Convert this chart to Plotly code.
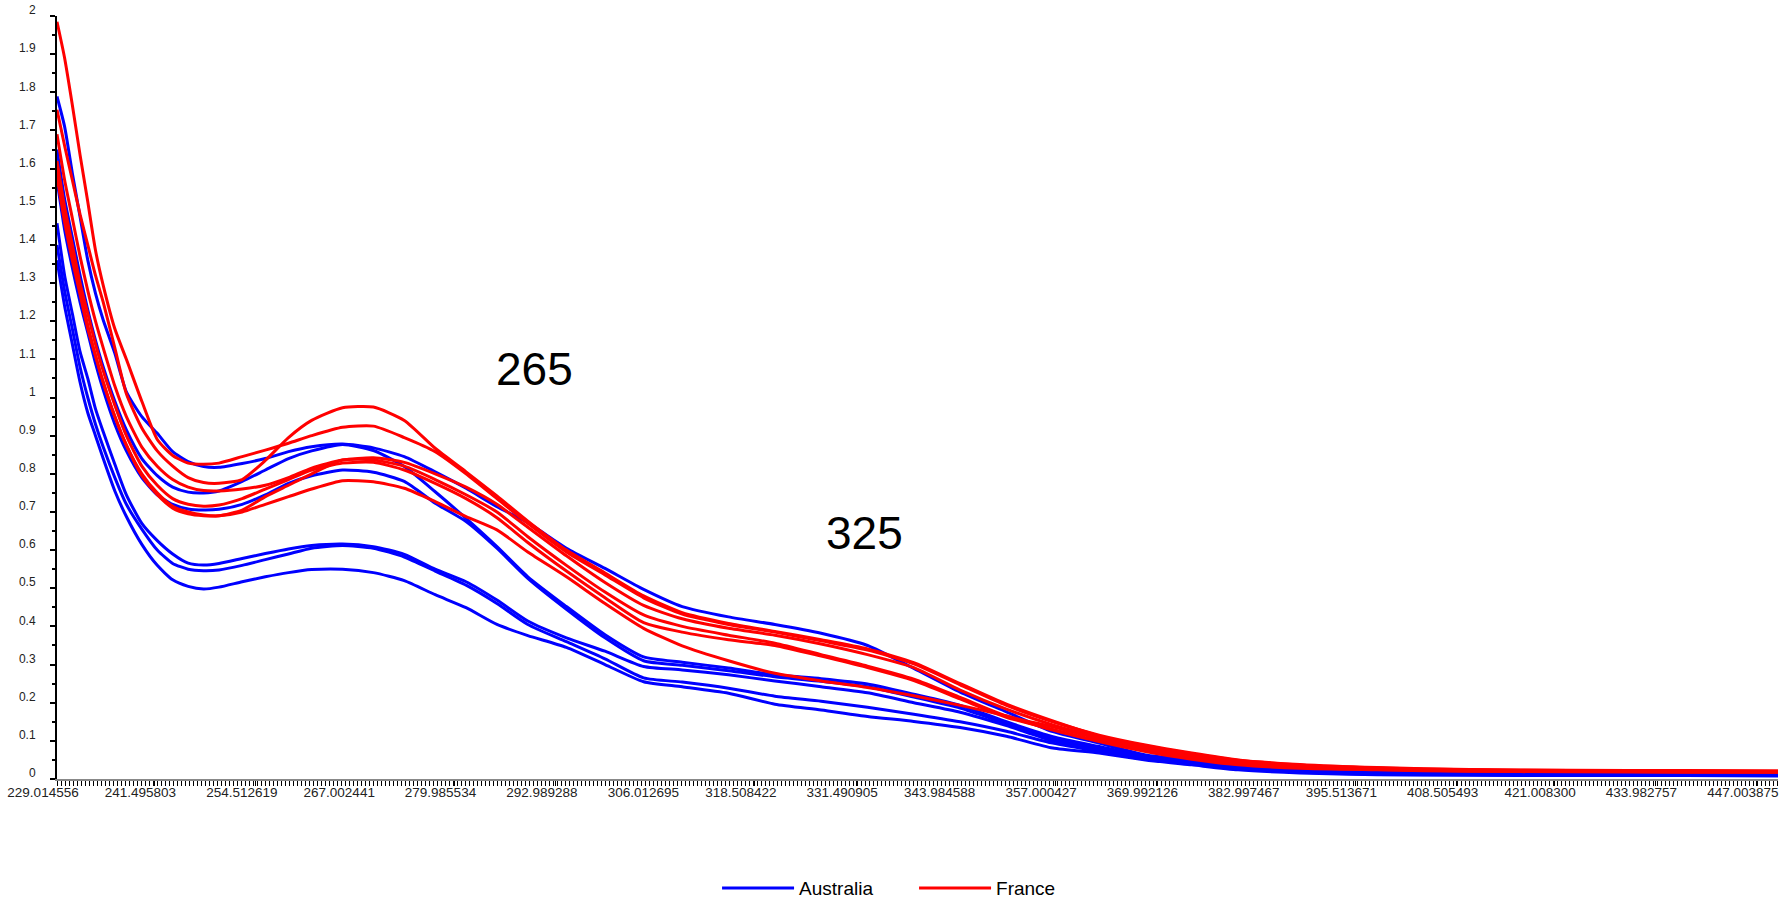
import plotly.graph_objects as go

# wavelength (nm) at which curve values were read
wl = [229.014556, 229.99, 230.98, 231.97, 232.96, 233.95, 234.94, 236.43, 237.91, 239.89,
      241.87, 243.85, 245.83, 247.81, 249.79, 252.76, 255.73, 258.70, 261.67, 265.63,
      269.59, 273.55, 277.51, 281.47, 285.43, 289.39, 294.34, 299.29, 304.24, 309.19,
      315.13, 321.07, 327.01, 332.95, 338.89, 344.83, 350.77, 356.71, 362.65, 368.59,
      374.53, 380.47, 388.39, 398.29, 410.17, 423.04, 437.89, 449.71]

aus_1 = [1.789, 1.71, 1.588, 1.474, 1.36, 1.273, 1.203, 1.116, 1.015, 0.95, 0.906, 0.858, 0.832, 0.819, 0.817, 0.827,
         0.84, 0.858, 0.871, 0.878, 0.868, 0.845, 0.805, 0.762, 0.714, 0.672, 0.605, 0.552, 0.497, 0.452, 0.425, 0.405,
         0.382, 0.35, 0.29, 0.228, 0.176, 0.124, 0.094, 0.063, 0.05, 0.037, 0.028, 0.02, 0.016, 0.014, 0.013, 0.012]
aus_2 = [1.65, 1.52, 1.42, 1.32, 1.23, 1.15, 1.08, 0.99, 0.915, 0.84, 0.795, 0.765, 0.752, 0.75, 0.755, 0.78,
         0.81, 0.84, 0.86, 0.877, 0.861, 0.819, 0.753, 0.683, 0.609, 0.53, 0.452, 0.378, 0.32, 0.306, 0.291, 0.273,
         0.263, 0.249, 0.222, 0.193, 0.15, 0.111, 0.085, 0.06, 0.046, 0.034, 0.025, 0.018, 0.014, 0.013, 0.012, 0.011]
aus_3 = [1.57, 1.44, 1.34, 1.25, 1.17, 1.09, 1.02, 0.93, 0.86, 0.79, 0.745, 0.72, 0.708, 0.705, 0.707, 0.72,
         0.745, 0.775, 0.795, 0.81, 0.804, 0.78, 0.723, 0.675, 0.605, 0.526, 0.445, 0.37, 0.31, 0.298, 0.284, 0.268,
         0.256, 0.242, 0.215, 0.186, 0.145, 0.105, 0.08, 0.057, 0.044, 0.032, 0.023, 0.016, 0.013, 0.012, 0.011, 0.01]
aus_4 = [1.457, 1.32, 1.22, 1.12, 1.05, 0.97, 0.91, 0.825, 0.745, 0.67, 0.625, 0.59, 0.566, 0.561, 0.565, 0.578,
         0.591, 0.603, 0.612, 0.616, 0.609, 0.589, 0.55, 0.517, 0.469, 0.414, 0.37, 0.335, 0.295, 0.286, 0.273, 0.257,
         0.242, 0.226, 0.2, 0.175, 0.14, 0.10, 0.076, 0.055, 0.042, 0.03, 0.021, 0.014, 0.012, 0.011, 0.01, 0.01]
aus_5 = [1.40, 1.28, 1.18, 1.08, 1.00, 0.93, 0.87, 0.79, 0.72, 0.655, 0.60, 0.565, 0.55, 0.546, 0.548, 0.56,
         0.575, 0.59, 0.605, 0.612, 0.605, 0.582, 0.545, 0.508, 0.46, 0.405, 0.36, 0.315, 0.265, 0.254, 0.238, 0.217,
         0.204, 0.188, 0.17, 0.15, 0.125, 0.094, 0.072, 0.052, 0.04, 0.027, 0.018, 0.012, 0.011, 0.01, 0.009, 0.009]
aus_6 = [1.36, 1.24, 1.14, 1.04, 0.96, 0.90, 0.84, 0.755, 0.688, 0.615, 0.56, 0.522, 0.505, 0.498, 0.503, 0.517,
         0.53, 0.541, 0.549, 0.55, 0.541, 0.52, 0.483, 0.449, 0.405, 0.376, 0.345, 0.30, 0.255, 0.242, 0.225, 0.196,
         0.181, 0.164, 0.151, 0.135, 0.112, 0.081, 0.068, 0.05, 0.037, 0.024, 0.016, 0.011, 0.01, 0.009, 0.009, 0.008]

fra_1 = [1.985, 1.89, 1.767, 1.636, 1.513, 1.386, 1.294, 1.18, 1.10, 0.99, 0.89, 0.848, 0.828, 0.825, 0.828, 0.845,
         0.862, 0.88, 0.90, 0.922, 0.925, 0.895, 0.858, 0.80, 0.735, 0.67, 0.595, 0.535, 0.475, 0.432, 0.405, 0.385,
         0.362, 0.338, 0.302, 0.247, 0.193, 0.15, 0.115, 0.089, 0.068, 0.05, 0.038, 0.03, 0.025, 0.023, 0.022, 0.021]
fra_2 = [1.754, 1.66, 1.57, 1.48, 1.40, 1.32, 1.25, 1.13, 1.01, 0.92, 0.86, 0.82, 0.79, 0.777, 0.775, 0.785,
         0.835, 0.895, 0.94, 0.973, 0.975, 0.94, 0.867, 0.805, 0.742, 0.676, 0.60, 0.54, 0.48, 0.436, 0.408, 0.387,
         0.365, 0.341, 0.305, 0.25, 0.196, 0.152, 0.113, 0.087, 0.066, 0.049, 0.037, 0.029, 0.024, 0.022, 0.021, 0.02]
fra_3 = [1.69, 1.57, 1.47, 1.37, 1.28, 1.20, 1.13, 1.03, 0.95, 0.87, 0.82, 0.785, 0.765, 0.756, 0.755, 0.76,
         0.77, 0.79, 0.815, 0.836, 0.842, 0.83, 0.80, 0.765, 0.72, 0.66, 0.585, 0.515, 0.455, 0.42, 0.395, 0.377,
         0.354, 0.326, 0.292, 0.233, 0.183, 0.142, 0.11, 0.085, 0.063, 0.046, 0.035, 0.028, 0.023, 0.021, 0.02, 0.02]
fra_4 = [1.62, 1.50, 1.40, 1.30, 1.22, 1.14, 1.07, 0.98, 0.90, 0.82, 0.77, 0.735, 0.72, 0.715, 0.718, 0.735,
         0.76, 0.785, 0.81, 0.828, 0.83, 0.81, 0.775, 0.735, 0.685, 0.62, 0.545, 0.475, 0.41, 0.385, 0.365, 0.35,
         0.322, 0.292, 0.258, 0.21, 0.162, 0.13, 0.10, 0.076, 0.055, 0.04, 0.03, 0.025, 0.021, 0.02, 0.019, 0.018]
fra_5 = [1.60, 1.48, 1.37, 1.28, 1.19, 1.11, 1.04, 0.95, 0.875, 0.795, 0.745, 0.71, 0.695, 0.69, 0.69, 0.70,
         0.72, 0.74, 0.76, 0.782, 0.779, 0.762, 0.727, 0.688, 0.653, 0.595, 0.53, 0.46, 0.395, 0.349, 0.31, 0.277,
         0.257, 0.24, 0.218, 0.193, 0.165, 0.128, 0.098, 0.072, 0.052, 0.037, 0.028, 0.024, 0.02, 0.019, 0.018, 0.018]
fra_6 = [1.58, 1.46, 1.36, 1.27, 1.18, 1.11, 1.04, 0.95, 0.875, 0.80, 0.75, 0.715, 0.70, 0.692, 0.69, 0.705,
         0.74, 0.77, 0.80, 0.836, 0.836, 0.82, 0.785, 0.745, 0.70, 0.635, 0.56, 0.49, 0.43, 0.40, 0.377, 0.356,
         0.326, 0.296, 0.262, 0.214, 0.165, 0.137, 0.105, 0.08, 0.058, 0.042, 0.032, 0.026, 0.022, 0.02, 0.019, 0.019]

australia = [aus_1, aus_2, aus_3, aus_4, aus_5, aus_6]
france = [fra_1, fra_2, fra_3, fra_4, fra_5, fra_6]

x_tick_vals = [229.014556, 241.495803, 254.512619, 267.002441, 279.985534, 292.989288,
               306.012695, 318.508422, 331.490905, 343.984588, 357.000427, 369.992126,
               382.997467, 395.513671, 408.505493, 421.008300, 433.982757, 447.003875]
x_tick_text = ["229.014556", "241.495803", "254.512619", "267.002441", "279.985534", "292.989288",
               "306.012695", "318.508422", "331.490905", "343.984588", "357.000427", "369.992126",
               "382.997467", "395.513671", "408.505493", "421.008300", "433.982757", "447.003875"]
y_tick_vals = [0, 0.1, 0.2, 0.3, 0.4, 0.5, 0.6, 0.7, 0.8, 0.9, 1.0,
               1.1, 1.2, 1.3, 1.4, 1.5, 1.6, 1.7, 1.8, 1.9, 2.0]
y_tick_text = ["0", "0.1", "0.2", "0.3", "0.4", "0.5", "0.6", "0.7", "0.8", "0.9", "1",
               "1.1", "1.2", "1.3", "1.4", "1.5", "1.6", "1.7", "1.8", "1.9", "2"]
y_minor_vals = [0.05, 0.15, 0.25, 0.35, 0.45, 0.55, 0.65, 0.75, 0.85, 0.95,
                1.05, 1.15, 1.25, 1.35, 1.45, 1.55, 1.65, 1.75, 1.85, 1.95]

peak_labels = ["265", "325"]
peak_label_x = [290.2, 332.6]
peak_label_y = [1.075, 0.645]

FONT = "Liberation Sans, Arial, sans-serif"

fig = go.Figure()
for i, ys in enumerate(australia):
    fig.add_trace(go.Scatter(x=wl, y=ys, mode="lines", name="Australia",
                             legendgroup="Australia", showlegend=(i == 0),
                             line=dict(color="#0000FF", width=3, shape="spline", smoothing=0.6)))
for i, ys in enumerate(france):
    fig.add_trace(go.Scatter(x=wl, y=ys, mode="lines", name="France",
                             legendgroup="France", showlegend=(i == 0),
                             line=dict(color="#FF0000", width=3, shape="spline", smoothing=0.6)))

for t, xx, yy in zip(peak_labels, peak_label_x, peak_label_y):
    fig.add_annotation(x=xx, y=yy, xref="x", yref="y", text=t, showarrow=False,
                       font=dict(family=FONT, size=46, color="black"))

fig.update_layout(
    width=1792, height=898,
    margin=dict(l=57, r=14, t=16, b=119, autoexpand=False),
    paper_bgcolor="white", plot_bgcolor="white",
    font=dict(family=FONT, color="#222222"),
    legend=dict(orientation="h", x=0.498, xanchor="center", y=-0.143, yanchor="middle",
                font=dict(family=FONT, size=19, color="black"), traceorder="normal",
                itemwidth=72, entrywidth=110),
)
fig.update_xaxes(
    range=[229.014556, 449.71], showgrid=False, zeroline=False, automargin=False,
    showline=True, linecolor="#888888", linewidth=2,
    tickmode="array", tickvals=x_tick_vals, ticktext=x_tick_text,
    ticks="outside", ticklen=5, tickcolor="black", tickwidth=1,
    tickfont=dict(family=FONT, size=13.5, color="#222222"),
    ticklabelshift=-14, ticklabelstandoff=-5,
    minor=dict(tick0=229.014556, dtick=0.513, ticks="outside", ticklen=5,
               tickcolor="black", tickwidth=1, showgrid=False),
)
fig.update_yaxes(
    range=[0, 2], showgrid=False, zeroline=False, automargin=False,
    showline=True, linecolor="black", linewidth=2,
    tickmode="array", tickvals=y_tick_vals, ticktext=y_tick_text,
    ticks="outside", ticklen=5, tickcolor="black", tickwidth=2,
    tickfont=dict(family=FONT, size=12, color="#222222"),
    ticklabelstandoff=12, ticklabelshift=-6,
    minor=dict(tickvals=y_minor_vals, ticks="outside", ticklen=3,
               tickcolor="black", tickwidth=2, showgrid=False),
)

fig.write_html("out.html")
